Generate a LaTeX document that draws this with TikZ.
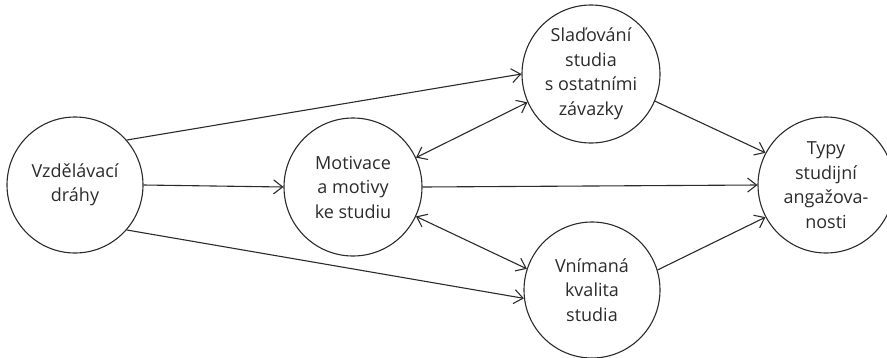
\documentclass[tikz,border=0pt]{standalone}
\usepackage{fontspec}
\setmainfont{Open Sans}
\usetikzlibrary{arrows.meta}
\definecolor{ink}{HTML}{2B2B2B}
\begin{document}
\begin{tikzpicture}[x=1pt,y=-1pt,
  concept/.style={circle,draw=ink,line width=1.1pt,text=ink,inner sep=0pt,
    minimum size=#1,align=center,font=\fontsize{18}{24.5}\selectfont},
  link/.style={draw=ink,line width=1.1pt,-{Straight Barb[length=9pt,width=14pt]}},
  twoway/.style={draw=ink,line width=1.1pt,{Straight Barb[length=9pt,width=14pt]}-{Straight Barb[length=9pt,width=14pt]}}]
\useasboundingbox (0,0) rectangle (887,357);
\begin{scope}
\clip (0,0) rectangle (887,357);
\node[concept=136pt] (vd) at (75,185) {Vzdělávací\\dráhy};
\node[concept=138pt] (mo) at (353,187) {Motivace\\a motivy\\ke studiu};
\node[concept=138pt] (sl) at (591,74) {Slaďování\\studia\\s ostatními\\závazky};
\node[concept=136pt] (vn) at (592,290) {Vnímaná\\kvalita\\studia};
\node[concept=136pt] (ty) at (826,185) {Typy\\studijní\\angažova-\\nosti};
\end{scope}
\draw[link] (vd.41.5) -- (sl.180);
\draw[link] (vd.0) -- (mo.180);
\draw[link] (vd.-41.5) -- (vn.187);
\draw[twoway] (mo.25) -- (sl.204);
\draw[twoway] (mo.-25) -- (vn.162);
\draw[link] (mo.0) -- (ty.180);
\draw[link] (sl.-23) -- (ty.152);
\draw[link] (vn.17) -- (ty.208);
\end{tikzpicture}
\end{document}
